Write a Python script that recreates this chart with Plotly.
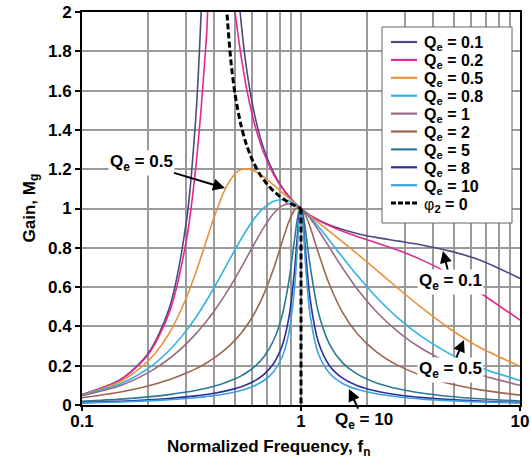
import plotly.graph_objects as go

# Normalized frequency samples
F = [0.1, 0.15, 0.2, 0.25, 0.3, 0.33, 0.35, 0.37, 0.4, 0.45, 0.5, 0.53, 0.57, 0.62, 0.68,
     0.75, 0.82, 0.88, 0.93, 0.96, 0.98, 1.0, 1.02, 1.05, 1.1, 1.2, 1.35, 1.55, 1.8, 2.2,
     2.8, 3.6, 4.8, 6.5, 10]

M_Q01 = [0.0531, 0.1296, 0.2611, 0.4914, 0.9379, 1.4462, 2.0, 2.857, 4.632, 3.616, 2.341, 1.974,
         1.677, 1.456, 1.296, 1.181, 1.107, 1.062, 1.032, 1.017, 1.008, 1.0, 0.992, 0.982, 0.966,
         0.942, 0.916, 0.893, 0.873, 0.853, 0.834, 0.813, 0.783, 0.739, 0.644]
M_Q02 = [0.0529, 0.1282, 0.2551, 0.4682, 0.8413, 1.1979, 1.5099, 1.8707, 2.364, 2.420, 2.0, 1.791,
         1.586, 1.412, 1.276, 1.173, 1.104, 1.060, 1.032, 1.017, 1.008, 1.0, 0.992, 0.982, 0.966,
         0.940, 0.912, 0.884, 0.858, 0.826, 0.786, 0.736, 0.665, 0.574, 0.432]
M_Q05 = [0.0514, 0.1197, 0.2225, 0.3648, 0.5468, 0.6699, 0.7541, 0.8367, 0.9513, 1.0975, 1.1765,
         1.1966, 1.2019, 1.1881, 1.1584, 1.1193, 1.0818, 1.0522, 1.0294, 1.0164, 1.0081, 1.0,
         0.9921, 0.9806, 0.9624, 0.9287, 0.8834, 0.8299, 0.7709, 0.6894, 0.5901, 0.4901, 0.3866,
         0.2949, 0.1963]
M_Q08 = [0.0490, 0.1076, 0.1851, 0.2774, 0.3798, 0.4440, 0.4874, 0.5307, 0.5950, 0.6975, 0.7906,
         0.8403, 0.8983, 0.9565, 1.0055, 1.0365, 1.0444, 1.0376, 1.0249, 1.0151, 1.0078, 1.0,
         0.9918, 0.9789, 0.9561, 0.9083, 0.8374, 0.7514, 0.6613, 0.5511, 0.4386, 0.3437, 0.2590,
         0.1917, 0.1248]
M_Q1 = [0.0471, 0.0992, 0.1633, 0.2353, 0.3124, 0.3605, 0.3931, 0.4260, 0.4761, 0.5603, 0.6442,
        0.6935, 0.7572, 0.8311, 0.9076, 0.9743, 1.0132, 1.0246, 1.0208, 1.0138, 1.0075, 1.0,
        0.9915, 0.9773, 0.9504, 0.8907, 0.8007, 0.6957, 0.5929, 0.4773, 0.3689, 0.2835, 0.2108,
        0.1549, 0.1003]
M_Q2 = [0.0366, 0.0661, 0.0969, 0.1288, 0.1625, 0.1839, 0.1987, 0.2140, 0.2381, 0.2816, 0.3304,
        0.3627, 0.4099, 0.4764, 0.5690, 0.6943, 0.8296, 0.9326, 0.9887, 1.0035, 1.0050, 1.0,
        0.9892, 0.9642, 0.9067, 0.7753, 0.6116, 0.4703, 0.3654, 0.2719, 0.1990, 0.1482, 0.1080,
        0.0784, 0.0504]
M_Q5 = [0.0189, 0.0299, 0.0412, 0.0530, 0.0658, 0.0740, 0.0797, 0.0857, 0.0952, 0.1128, 0.1331,
        0.1470, 0.1680, 0.1996, 0.2483, 0.3293, 0.4562, 0.6287, 0.8259, 0.9395, 0.9880, 1.0,
        0.9737, 0.8854, 0.7103, 0.4721, 0.3091, 0.2146, 0.1581, 0.1136, 0.0815, 0.0600, 0.0435,
        0.0315, 0.0202]
M_Q8 = [0.0123, 0.0190, 0.0259, 0.0333, 0.0412, 0.0463, 0.0498, 0.0536, 0.0595, 0.0705, 0.0833,
        0.0920, 0.1053, 0.1254, 0.1570, 0.2109, 0.3011, 0.4431, 0.6609, 0.8472, 0.9587, 1.0,
        0.9466, 0.7791, 0.5421, 0.3206, 0.2002, 0.1365, 0.0998, 0.0714, 0.0511, 0.0376, 0.0272,
        0.0197, 0.0126]
M_Q10 = [0.0099, 0.0152, 0.0208, 0.0266, 0.0329, 0.0370, 0.0399, 0.0429, 0.0476, 0.0564, 0.0666,
         0.0737, 0.0843, 0.1005, 0.1259, 0.1697, 0.2442, 0.3661, 0.5727, 0.7825, 0.9338, 1.0,
         0.9235, 0.7088, 0.4605, 0.2620, 0.1616, 0.1097, 0.0800, 0.0572, 0.0409, 0.0301, 0.0218,
         0.0158, 0.0101]

# Zero-phase boundary (phi2 = 0)
PHI_F = [0.45, 0.46, 0.48, 0.5, 0.53, 0.56, 0.6, 0.65, 0.7, 0.75, 0.8, 0.85, 0.9, 0.95, 1.0]
PHI_M = [2.170, 1.981, 1.736, 1.581, 1.432, 1.334, 1.246, 1.173, 1.124, 1.088, 1.062, 1.041,
         1.024, 1.011, 1.0]
PHI_VF = [1.0, 1.0]
PHI_VM = [1.0, 0.0]

Q_LABELS = ["0.1", "0.2", "0.5", "0.8", "1", "2", "5", "8", "10"]
SERIES_M = [M_Q01, M_Q02, M_Q05, M_Q08, M_Q1, M_Q2, M_Q5, M_Q8, M_Q10]
COLORS = ["#4b4b82", "#e2298e", "#e8923a", "#2fb2e4", "#9a6a8a", "#9c6650", "#2a7a90",
          "#2e2e9a", "#3aa2dc"]

X_MAJOR = [0.1, 1, 10]
X_MAJOR_TEXT = ["0.1", "1", "10"]
X_MINOR = [0.2, 0.3, 0.4, 0.5, 0.6, 0.7, 0.8, 0.9, 2, 3, 4, 5, 6, 7, 8, 9]
Y_TICKS = [0, 0.2, 0.4, 0.6, 0.8, 1, 1.2, 1.4, 1.6, 1.8, 2]
Y_TEXT = ["0", "0.2", "0.4", "0.6", "0.8", "1", "1.2", "1.4", "1.6", "1.8", "2"]

FONT = "Liberation Sans, Arial, sans-serif"
W, H = 531, 461
ML, MR, MT, MB = 82, 11, 12, 56
PW, PH = W - ML - MR, H - MT - MB


def px(xs):
    return (xs - ML) / PW


def py(ys):
    return (H - MB - ys) / PH


fig = go.Figure()
for q, m, c in zip(Q_LABELS, SERIES_M, COLORS):
    fig.add_trace(go.Scatter(
        x=F, y=m, mode="lines", name=f"Q<sub>e</sub> = {q}", showlegend=False,
        line=dict(color=c, width=1.6, shape="spline", smoothing=0.8),
    ))
fig.add_trace(go.Scatter(
    x=PHI_F, y=PHI_M, mode="lines", showlegend=False,
    line=dict(color="black", width=3, dash="6px,3px", shape="spline", smoothing=0.8),
))
fig.add_trace(go.Scatter(
    x=PHI_VF, y=PHI_VM, mode="lines", showlegend=False,
    line=dict(color="black", width=3, dash="6px,3px"),
))

ann_font = dict(family=FONT, size=17, color="black", weight="bold")
annotations = [
    dict(x=-0.347, y=1.104, ax=-84, ay=-25, text="Q<sub>e</sub> = 0.5"),
    dict(x=0.648, y=0.784, ax=8, ay=31, text="Q<sub>e</sub> = 0.1"),
    dict(x=0.744, y=0.331, ax=-13, ay=30, text="Q<sub>e</sub> = 0.5"),
    dict(x=0.219, y=0.081, ax=15, ay=32, text="Q<sub>e</sub> = 10"),
]
for a in annotations:
    fig.add_annotation(**a, xref="x", yref="y", showarrow=True, arrowhead=2, arrowsize=1.2,
                       arrowwidth=2, arrowcolor="black", font=ann_font, bgcolor="white",
                       borderpad=1)

fig.add_annotation(x=px(268), y=py(448), xref="paper", yref="paper", showarrow=False,
                   yanchor="middle", text="Normalized Frequency, f<sub>n</sub>", font=ann_font)
fig.add_annotation(x=px(17), y=0.5, xref="paper", yref="paper", showarrow=False,
                   textangle=-90, text="Gain, M<sub>g</sub>", font=ann_font)

# Legend box drawn by hand
shapes = [dict(type="rect", xref="paper", yref="paper", x0=px(382), x1=px(512),
               y0=py(223), y1=py(27), fillcolor="white",
               line=dict(color="#666666", width=1), layer="above")]
leg_font = dict(family=FONT, size=16, color="black", weight="bold")
legend_items = [(f"Q<sub>e</sub> = {q}", c, "solid", 2.2) for q, c in zip(Q_LABELS, COLORS)]
legend_items.append(('<span style="font-weight:normal">φ</span><sub>2</sub> = 0', "black",
                     "5px,2px", 3))
for i, (label, c, dash, w) in enumerate(legend_items):
    yrow = 42 + i * 17.9
    shapes.append(dict(type="line", xref="paper", yref="paper", x0=px(391), x1=px(417),
                       y0=py(yrow), y1=py(yrow), line=dict(color=c, width=w, dash=dash),
                       layer="above"))
    fig.add_annotation(x=px(422), y=py(yrow + 2), xref="paper", yref="paper",
                       showarrow=False, xanchor="left", yanchor="middle",
                       text=label, font=leg_font)

fig.update_layout(
    width=W, height=H,
    margin=dict(l=ML, r=MR, t=MT, b=MB),
    paper_bgcolor="white", plot_bgcolor="white",
    font=dict(family=FONT, size=16, color="black"),
    showlegend=False,
    shapes=shapes,
)
fig.update_xaxes(
    type="log", range=[-1, 1], automargin=False,
    tickmode="array", tickvals=X_MAJOR, ticktext=X_MAJOR_TEXT,
    ticks="outside", ticklen=4, tickcolor="black", tickwidth=1.5,
    ticklabelstandoff=-4,
    tickfont=dict(family=FONT, size=17, color="black", weight="bold"),
    showgrid=True, gridcolor="#9a9a9a", gridwidth=1.5,
    minor=dict(tickmode="array", tickvals=X_MINOR, showgrid=True,
               gridcolor="#9a9a9a", gridwidth=1.5, ticks=""),
    showline=True, linecolor="black", linewidth=2, mirror=True,
    zeroline=False,
)
fig.update_yaxes(
    range=[0, 2], automargin=False, tickmode="array", tickvals=Y_TICKS, ticktext=Y_TEXT,
    ticks="outside", ticklen=5, tickcolor="black", tickwidth=1.5,
    tickfont=dict(family=FONT, size=17, color="black", weight="bold"),
    showgrid=True, gridcolor="#9a9a9a", gridwidth=1.5,
    showline=True, linecolor="black", linewidth=2, mirror=True,
    zeroline=False,
)

# Remove the browser's default page margin so the figure sits at the window origin.
fig.write_html(
    "out.html",
    config={"displayModeBar": False},
    post_script="document.body.style.margin='0';document.body.style.padding='0';"
                "document.documentElement.style.overflow='hidden';",
)
